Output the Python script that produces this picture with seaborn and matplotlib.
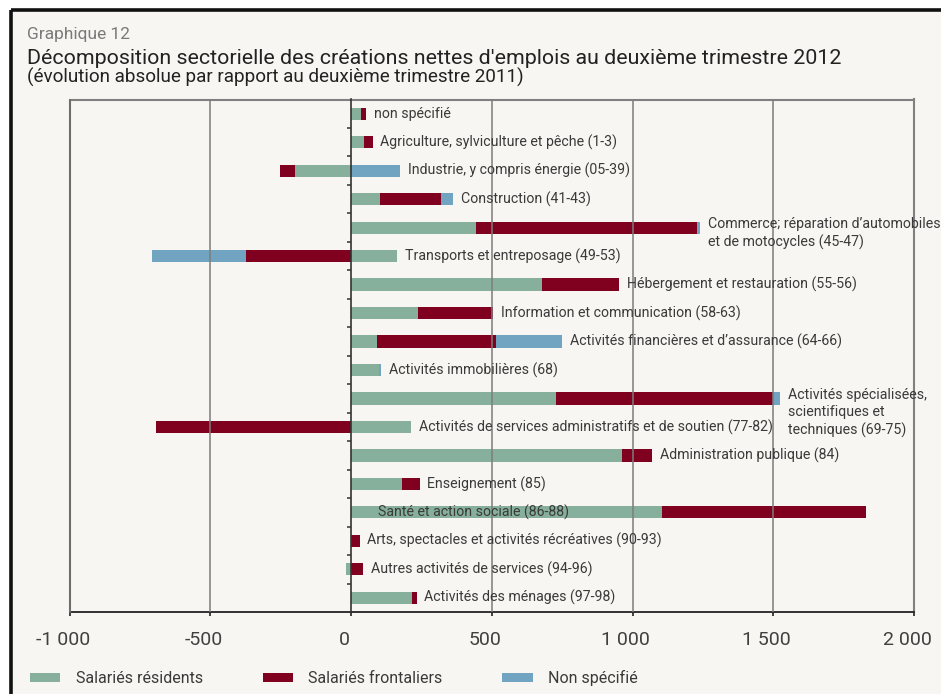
import numpy as np
import pandas as pd
import matplotlib
matplotlib.use("Agg")
import matplotlib.pyplot as plt
import matplotlib.transforms as mtransforms
from matplotlib.patches import Patch, Rectangle
from matplotlib.lines import Line2D
import seaborn as sns

# ---------------- data ----------------
categories = [
    "non spécifié",
    "Agriculture, sylviculture et pêche (1-3)",
    "Industrie, y compris énergie (05-39)",
    "Construction (41-43)",
    "Commerce; réparation d’automobiles\net de motocycles (45-47)",
    "Transports et entreposage (49-53)",
    "Hébergement et restauration (55-56)",
    "Information et communication (58-63)",
    "Activités financières et d’assurance (64-66)",
    "Activités immobilières (68)",
    "Activités spécialisées,\nscientifiques et\ntechniques (69-75)",
    "Activités de services administratifs et de soutien (77-82)",
    "Administration publique (84)",
    "Enseignement (85)",
    "Santé et action sociale (86-88)",
    "Arts, spectacles et activités récréatives (90-93)",
    "Autres activités de services (94-96)",
    "Activités des ménages (97-98)",
]
residents = [35, 45, -199, 103, 443, 164, 678, 238, 92, 98, 728, 213, 963, 181, 1105, 0, -18, 216]
frontaliers = [18, 32, -53, 217, 786, -373, 274, 267, 423, 0, 772, -693, 107, 63, 725, 30, 42, 17]
non_specifie = [0, 0, 174, 42, 12, -334, 0, 0, 235, 8, 25, 0, 0, 0, 0, 0, 0, 0]

series_names = ["Salariés résidents", "Salariés frontaliers", "Non spécifié"]
xticks = [-1000, -500, 0, 500, 1000, 1500, 2000]
xtick_labels = ["-1 000", "-500", "0", "500", "1 000", "1 500", "2 000"]

title_small = "Graphique 12"
title_main = "Décomposition sectorielle des créations nettes d'emplois au deuxième trimestre 2012"
title_sub = "(évolution absolue par rapport au deuxième trimestre 2011)"

colors = ["#86b09b", "#80001f", "#70a4c1"]
bg = "#f7f6f2"
text_col = "#3a3a3a"

# ---------------- style ----------------
sns.set_theme(style="white")
plt.rcParams["font.family"] = ["Roboto", "DejaVu Sans"]

fig = plt.figure(figsize=(9.41, 6.94), dpi=100, facecolor="white")
W, H = 941, 694
# cream panel with black frame (left and top)
fig.patches.append(Rectangle((11 / W, 0), 1 - 11 / W, 1 - 10 / H, transform=fig.transFigure,
                             facecolor=bg, edgecolor="none", zorder=-10))
fig.add_artist(Line2D([11 / W, 11 / W], [0, 1 - 10 / H], transform=fig.transFigure,
                      color="#111111", lw=2.6, solid_capstyle="butt"))
fig.add_artist(Line2D([11 / W, 1], [1 - 10 / H, 1 - 10 / H], transform=fig.transFigure,
                      color="#111111", lw=2.6, solid_capstyle="butt"))

ax = fig.add_axes([69.7 / W, (H - 612) / H, (914 - 69.7) / W, (612 - 99.5) / H])
ax.set_facecolor(bg)

res = np.array(residents, float)
fro = np.array(frontaliers, float)
nsp = np.array(non_specifie, float)

p1 = np.clip(res, 0, None)
p2 = p1 + np.clip(fro, 0, None)
p3 = p2 + np.clip(nsp, 0, None)
n1 = np.clip(res, None, 0)
n2 = n1 + np.clip(fro, None, 0)
n3 = n2 + np.clip(nsp, None, 0)

df = pd.DataFrame({"cat": categories, "p1": p1, "p2": p2, "p3": p3,
                   "n1": n1, "n2": n2, "n3": n3})

for col, c in [("p3", colors[2]), ("p2", colors[1]), ("p1", colors[0]),
               ("n3", colors[2]), ("n2", colors[1]), ("n1", colors[0])]:
    sns.barplot(data=df, x=col, y="cat", order=categories, orient="h",
                color=c, saturation=1, width=0.43, linewidth=0,
                errorbar=None, ax=ax, zorder=2)

ax.set_xlim(-1000, 2000)
ax.set_ylim(17.5, -0.5)
ax.set_xlabel("")
ax.set_ylabel("")

# x axis
ax.set_xticks(xticks)
ax.set_xticklabels(xtick_labels)
ax.tick_params(axis="x", which="major", direction="out", length=3, width=1.2,
               color="#222222", pad=11, labelsize=14, labelcolor="#404040", bottom=True)
shift = mtransforms.ScaledTranslation(-7 / 100, 0, fig.dpi_scale_trans)
for lab in ax.get_xticklabels():
    lab.set_transform(lab.get_transform() + shift)

# grid
for xv in [-500, 500, 1000, 1500]:
    ax.axvline(xv, color="#7d7d7d", lw=1.3, alpha=0.85, zorder=3)

# spines
ax.spines["left"].set_position(("data", 0))
ax.spines["left"].set_color("#333333")
ax.spines["left"].set_linewidth(1.2)
ax.spines["left"].set_zorder(4)
ax.spines["bottom"].set_color("#222222")
ax.spines["bottom"].set_linewidth(1.3)
for s in ["top", "right"]:
    ax.spines[s].set_color("#808080")
    ax.spines[s].set_linewidth(1.5)
ax.axvline(-1000, color="#6e6e6e", lw=1.5, zorder=3, clip_on=False)

# y ticks at category boundaries
ax.set_yticks([])
ax.set_yticks(np.arange(0.5, 17.5, 1), minor=True)
ax.tick_params(axis="y", which="minor", direction="out", length=3, width=1.1,
               color="#333333", left=True, labelleft=False)

# category labels
for i, name in enumerate(categories):
    if name.startswith("Santé"):
        ax.annotate(name, xy=(0, i), xytext=(19, 0), textcoords="offset points",
                    va="center", ha="left", fontsize=10.2, color=text_col, zorder=5)
        continue
    end = p3[i]
    nlines = name.count("\n") + 1
    if nlines == 1:
        ax.annotate(name, xy=(end, i), xytext=(5.5, 0), textcoords="offset points",
                    va="center", ha="left", fontsize=10.2, color=text_col,
                    annotation_clip=False, zorder=5)
    else:
        ax.annotate(name, xy=(end, i), xytext=(5.5, 7.5), textcoords="offset points",
                    va="top", ha="left", fontsize=10.2, color=text_col,
                    linespacing=1.3, annotation_clip=False, zorder=5)

# titles
fig.text(27 / W, 1 - 35 / H, title_small, fontsize=12.5, color="#7a7a7a", va="center", ha="left")
fig.text(27 / W, 1 - 58 / H, title_main, fontsize=15.4, color="#222222", va="center", ha="left")
fig.text(27 / W, 1 - 77 / H, title_sub, fontsize=13.6, color="#222222", va="center", ha="left")

# legend
handles = [Patch(facecolor=c, edgecolor="none", label=n) for c, n in zip(colors, series_names)]
fig.legend(handles=handles, loc="center left", bbox_to_anchor=(30 / W, 1 - 678 / H),
           ncol=3, frameon=False, fontsize=11.5, handlelength=1.9, handleheight=0.5,
           handletextpad=0.95, columnspacing=3.75, labelcolor=text_col,
           borderpad=0, borderaxespad=0)

fig.savefig("out.png", dpi=100, facecolor=fig.get_facecolor())
